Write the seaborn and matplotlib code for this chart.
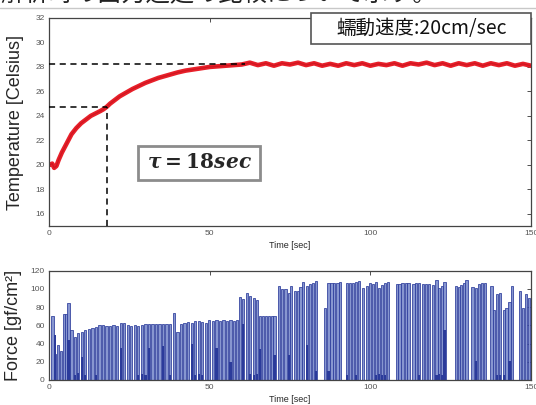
import matplotlib
matplotlib.use('Agg')
import matplotlib.pyplot as plt
import seaborn as sns
import pandas as pd
from matplotlib.patches import Rectangle
from matplotlib.lines import Line2D

# Temperature curve (time [sec], temperature [C])
temp_t = [0.3, 1.0, 1.6, 2.3, 3.0, 4.0, 5.0, 6.0, 7.0, 8.5, 10.0, 11.5, 13.0, 14.5,
          16.0, 17.0, 18.0, 19.0, 20.5, 22.0, 24.0, 26.0, 28.0, 30.0, 32.0, 34.0,
          36.0, 38.0, 40.0, 42.5, 45.0, 47.5, 50.0, 52.5, 55.0, 57.5, 60.0, 62.5,
          65.0, 67.5, 70.0, 72.5, 75.0, 77.5, 80.0, 82.5, 85.0, 87.5, 90.0, 92.5,
          95.0, 97.5, 100.0, 102.5, 105.0, 107.5, 110.0, 112.5, 115.0, 117.5, 120.0,
          122.5, 125.0, 127.5, 130.0, 132.5, 135.0, 137.5, 140.0, 142.5, 145.0,
          147.5, 150.0]
temp_c = [20.0, 20.1, 19.75, 19.9, 20.4, 21.0, 21.5, 22.0, 22.5, 23.0, 23.4, 23.7,
          24.0, 24.2, 24.4, 24.55, 24.75, 25.0, 25.3, 25.6, 25.9, 26.2, 26.45, 26.7,
          26.9, 27.1, 27.25, 27.4, 27.55, 27.7, 27.8, 27.9, 28.0, 28.05, 28.1, 28.15,
          28.2, 28.35, 28.15, 28.3, 28.1, 28.3, 28.2, 28.35, 28.15, 28.3, 28.1, 28.25,
          28.1, 28.3, 28.15, 28.3, 28.1, 28.25, 28.15, 28.3, 28.1, 28.3, 28.2, 28.35,
          28.15, 28.3, 28.1, 28.3, 28.15, 28.3, 28.1, 28.3, 28.15, 28.3, 28.1, 28.25,
          28.1]

# time constant guide lines
tau = 18
tau_temp = 24.7
final_temp = 28.2
final_reach_t = 61

# Force pulses, lower panel (time [sec], peak [gf/cm2])
force_t_early = [1.1, 1.8, 2.9, 3.7, 4.6, 5.3, 6.1, 7.0, 8.0, 9.1, 10.2, 11.3, 12.4,
                 13.5, 14.6, 15.7, 16.8, 17.9, 19.0, 20.1, 21.2, 22.3, 23.4, 24.5,
                 25.6, 26.7, 27.8, 28.9, 30.0, 31.1, 32.2, 33.3, 34.4, 35.5, 36.6,
                 37.7, 38.9, 40.0, 41.1, 42.2, 43.3, 44.4, 45.5, 46.6, 47.7, 48.8]
force_early = [70, 28, 38, 32, 73, 72, 85, 55, 47, 52, 53, 55, 56, 57, 58, 60, 60, 59,
               59, 60, 59, 63, 63, 60, 59, 60, 59, 60, 61, 61, 62, 62, 61, 62, 62, 61,
               74, 53, 62, 63, 64, 63, 65, 65, 64, 63]

force_t_late = [49.9, 51.0, 52.1, 53.2, 54.3, 55.4, 56.5, 57.6, 58.6, 59.4, 60.3, 61.6,
                62.6, 63.7, 64.8, 65.6, 66.6, 67.5, 68.4, 69.3, 70.2, 71.5, 72.6, 73.6,
                74.6, 75.4, 76.6, 77.5, 78.3, 79.1, 80.3, 81.3, 82.2, 83.1, 85.9, 87.0,
                87.9, 88.8, 89.8, 90.6, 92.7, 93.7, 94.6, 95.5, 96.5, 97.8, 98.9, 99.9,
                100.8, 101.7, 102.8, 103.7, 104.6, 105.5, 108.2, 109.1, 110.0, 111.0,
                111.9, 113.4, 114.3, 115.2, 116.4, 117.3, 118.2, 119.6, 120.6, 121.4,
                122.3, 123.1, 126.6, 127.5, 128.3, 129.1, 129.9, 131.8, 132.8, 133.8,
                134.8, 135.6, 137.7, 138.6, 139.5, 140.4, 141.5, 142.4, 143.3, 144.2,
                146.6, 147.5, 148.4, 149.3]
force_late = [66, 65, 66, 65, 66, 65, 66, 65, 66, 91, 89, 95, 92, 90, 88, 70, 70, 70,
              70, 70, 70, 103, 100, 100, 96, 103, 98, 98, 102, 108, 103, 105, 107, 109,
              79, 107, 106, 107, 107, 108, 107, 107, 107, 108, 109, 101, 103, 106, 105,
              108, 101, 104, 107, 108, 105, 105, 106, 107, 107, 105, 106, 107, 105, 105,
              105, 104, 110, 101, 103, 108, 103, 102, 104, 106, 110, 102, 101, 105, 107,
              107, 103, 77, 94, 96, 77, 79, 86, 103, 98, 79, 94, 90]

# darker low-level parts near the base of some pulses
low_t = [1.8, 6.1, 8.0, 9.1, 10.2, 11.3, 14.6, 22.3, 27.8, 28.9, 30.0, 31.1, 35.5, 37.7,
         44.4, 45.5, 46.6, 47.7, 52.1, 56.5, 60.3, 62.6, 63.7, 64.8, 65.6, 70.2, 74.6,
         80.3, 83.1, 87.0, 92.7, 95.5, 101.7, 102.8, 103.7, 104.6, 115.2, 120.6,
         121.4, 122.3, 123.1, 132.8, 139.5, 140.4, 141.5, 143.3]
low_h = [49, 44, 5, 8, 25, 6, 5, 35, 6, 7, 6, 35, 37, 5, 40, 6, 7, 6, 35, 20, 62, 7, 6,
         7, 34, 27, 27, 38, 10, 10, 5, 5, 6, 7, 6, 6, 5, 6, 7, 6, 55, 21, 5, 6, 5, 21]

temp_df = pd.DataFrame({'time': temp_t, 'temp': temp_c})

sns.set_style('white')
plt.rcParams['font.family'] = ['Liberation Sans', 'Noto Sans CJK JP', 'DejaVu Sans']
plt.rcParams['mathtext.rm'] = 'DejaVu Serif:bold'
plt.rcParams['mathtext.it'] = 'DejaVu Serif:italic:bold'
plt.rcParams['mathtext.bf'] = 'DejaVu Serif:bold'

W, H = 536, 405
fig = plt.figure(figsize=(W / 100, H / 100), dpi=100)
ax1 = fig.add_axes([49 / W, 1 - 226 / H, 482 / W, 208 / H])
ax2 = fig.add_axes([49 / W, 1 - 380 / H, 482 / W, 109.3 / H])

# upper panel: temperature
sns.lineplot(data=temp_df, x='time', y='temp', ax=ax1, color='#e8202a', linewidth=3.3)
sns.lineplot(data=temp_df, x='time', y='temp', ax=ax1, color='#c0101a', linewidth=0.9, alpha=0.6)
dash = dict(color='black', linewidth=1.1, linestyles=(0, (4, 3)), zorder=3)
ax1.hlines(final_temp, 0, final_reach_t, **dash)
ax1.hlines(tau_temp, 0, tau, **dash)
ax1.vlines(tau, 15, tau_temp, **dash)
ax1.set_xlim(0, 150)
ax1.set_ylim(15, 32)
ax1.set_yticks(range(16, 33, 2))
ax1.set_ylabel('Temperature [Celsius]', fontsize=13, labelpad=8)
ax1.set_xlabel('Time [sec]', fontsize=6.5, labelpad=3)

# lower panel: force pulses
ax2.bar(force_t_early + force_t_late, force_early + force_late, width=0.7,
        color='#8796d0', edgecolor='#2b3b9b', linewidth=0.55)
ax2.bar(low_t, low_h, width=0.7, color='#2b3b9b', linewidth=0)
ax2.set_xlim(0, 150)
ax2.set_ylim(0, 120)
ax2.set_yticks(range(0, 121, 20))
ax2.set_ylabel('Force [gf/cm²]', fontsize=13, labelpad=6)
ax2.set_xlabel('Time [sec]', fontsize=6.5, labelpad=3)

for ax in (ax1, ax2):
    ax.set_xticks([0, 50, 100, 150])
    ax.tick_params(direction='in', length=3, width=0.6, color='#333333',
                   labelsize=6, labelcolor='#555555', top=True, right=True, pad=3)
    for sp in ax.spines.values():
        sp.set_color('#444444')
        sp.set_linewidth(0.9)

# tau annotation box
fig.add_artist(Rectangle((138 / W, 1 - 180 / H), 122 / W, 34 / H, transform=fig.transFigure,
                         facecolor='white', edgecolor='#8c8c8c', linewidth=2, zorder=5))
fig.text(199 / W, 1 - 163 / H, r'$\tau = 18sec$', fontsize=14.5, ha='center', va='center',
         math_fontfamily='custom', zorder=6)

# speed label box
fig.add_artist(Rectangle((311 / W, 1 - 44.3 / H), 220 / W, 31.6 / H, transform=fig.transFigure,
                         facecolor='white', edgecolor='#555555', linewidth=1.2, zorder=5))
fig.text(422 / W, 1 - 28.5 / H, '蠕動速度:20cm/sec', fontsize=14, ha='center', va='center',
         family=['Noto Sans CJK JP', 'DejaVu Sans'], color='#111111', zorder=6)

# clipped line of slide text at the very top
fig.text(0.0, 1 - 1 / H, '解析時の出力遅延の比較について示す。', fontsize=17.5, ha='left',
         va='baseline', family=['Noto Sans CJK JP', 'DejaVu Sans'], color='#222222')
fig.add_artist(Line2D([0, 1], [1 - 7.5 / H] * 2, transform=fig.transFigure,
                      color='#c8c8c8', linewidth=1))

fig.savefig('out.png', dpi=100)
